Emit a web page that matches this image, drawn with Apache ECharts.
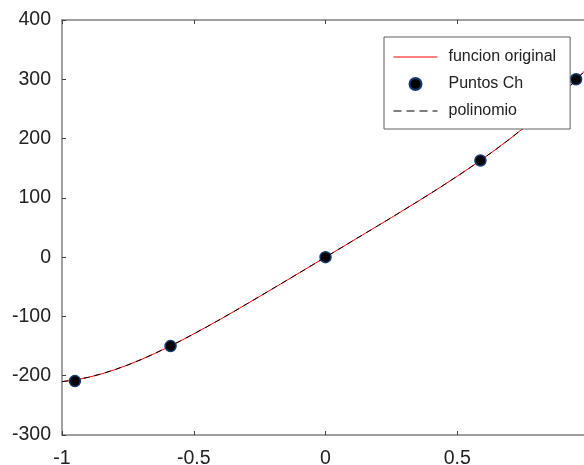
<!DOCTYPE html>
<html>
<head>
<meta charset="utf-8">
<script src="https://cdn.jsdelivr.net/npm/echarts@6/dist/echarts.min.js"></script>
<style>
html,body{margin:0;padding:0;background:#fff;}
#c{width:584px;height:465px;}
</style>
</head>
<body>
<div id="c"></div>
<script>
// x positions of the smooth curves
var curveX = [-1, -0.95, -0.9, -0.85, -0.8, -0.75, -0.7, -0.65, -0.6, -0.55, -0.5, -0.45, -0.4, -0.35, -0.3, -0.25, -0.2, -0.15, -0.1, -0.05, 0,
  0.05, 0.1, 0.15, 0.2, 0.25, 0.3, 0.35, 0.4, 0.45, 0.5, 0.55, 0.6, 0.65, 0.7, 0.75, 0.8, 0.85, 0.9, 0.95, 1];
// funcion original values
var originalY = [-210, -207, -202.7, -196.9, -189.9, -181.8, -172.8, -162.9, -152.3, -141.2, -129.5, -117.4, -105, -92.3, -79.3, -66.3, -53.1, -39.9, -26.6, -13.3, 0,
  13.3, 26.6, 40, 53.3, 66.7, 80.3, 93.9, 107.8, 122, 136.5, 151.4, 166.9, 182.9, 199.6, 217.2, 235.7, 255.3, 276.1, 298.3, 322];
// polinomio values
var polyY = [-210, -207, -202.7, -196.9, -189.9, -181.8, -172.8, -162.9, -152.3, -141.2, -129.5, -117.4, -105, -92.3, -79.3, -66.3, -53.1, -39.9, -26.6, -13.3, 0,
  13.3, 26.6, 40, 53.3, 66.7, 80.3, 93.9, 107.8, 122, 136.5, 151.4, 166.9, 182.9, 199.6, 217.2, 235.7, 255.3, 276.1, 298.3, 322];
// Puntos Ch (Chebyshev nodes)
var nodesX = [-0.951, -0.588, 0, 0.588, 0.951];
var nodesY = [-209, -150, 0, 163, 300];

var seriesNames = ['funcion original', 'Puntos Ch', 'polinomio'];

function pairs(xs, ys){ return xs.map(function(x,i){ return [x, ys[i]]; }); }

var axisGray = '#808080';
var labelColor = '#222222';
var font = 'Liberation Sans, Arial, Helvetica, sans-serif';

var chart = echarts.init(document.getElementById('c'), null, {renderer:'canvas'});
chart.setOption({
  backgroundColor: '#ffffff',
  animation: false,
  grid: { left: 62, top: 20, width: 527, height: 415, outerBoundsMode: 'none', containLabel: false },
  legend: {
    orient: 'vertical',
    left: 384, top: 37, z: 20,
    backgroundColor: '#ffffff',
    borderColor: '#606060', borderWidth: 1,
    padding: [11, 14, 9, 9],
    itemWidth: 44, itemHeight: 12, itemGap: 9,
    textStyle: { fontFamily: font, fontSize: 16, color: labelColor, lineHeight: 18, padding: [0,0,0,6] },
    data: [
      { name: seriesNames[0], itemStyle: { opacity: 0 }, lineStyle: { width: 1, color: '#ff0000' } },
      { name: seriesNames[1] },
      { name: seriesNames[2], itemStyle: { opacity: 0 }, lineStyle: { width: 1, color: '#000000', type: [8, 5] } }
    ]
  },
  xAxis: [{
    type: 'value', min: -1, max: 1, interval: 0.5, position: 'bottom',
    axisLine: { show: true, onZero: false, lineStyle: { color: axisGray, width: 1.5 } },
    axisTick: { show: true, inside: true, length: 4, lineStyle: { color: '#404040', width: 1 } },
    axisLabel: { margin: 14, fontFamily: font, fontSize: 19.5, color: labelColor },
    splitLine: { show: false }
  }, {
    type: 'value', min: -1, max: 1, interval: 0.5, position: 'top',
    axisLine: { show: true, onZero: false, lineStyle: { color: axisGray, width: 1.5 } },
    axisTick: { show: true, inside: true, length: 4, lineStyle: { color: '#404040', width: 1 } },
    axisLabel: { show: false },
    splitLine: { show: false }
  }],
  yAxis: {
    type: 'value', min: -300, max: 400, interval: 100,
    axisLine: { show: true, onZero: false, lineStyle: { color: axisGray, width: 1.5 } },
    axisTick: { show: true, inside: true, length: 4, lineStyle: { color: '#404040', width: 1 } },
    axisLabel: { margin: 11, fontFamily: font, fontSize: 19.5, color: labelColor },
    splitLine: { show: false }
  },
  series: [{
    name: seriesNames[0], type: 'line', data: pairs(curveX, originalY),
    symbol: 'none', smooth: false, z: 2,
    lineStyle: { color: '#ff0000', width: 1 }, itemStyle: { color: '#ff0000' }
  }, {
    name: seriesNames[1], type: 'scatter', data: pairs(nodesX, nodesY),
    symbol: 'circle', symbolSize: 11, z: 3,
    itemStyle: { color: '#000000', borderColor: '#123b73', borderWidth: 1.5, opacity: 1 }
  }, {
    name: seriesNames[2], type: 'line', data: pairs(curveX, polyY),
    symbol: 'none', smooth: false, z: 4,
    lineStyle: { color: '#000000', width: 1, type: [6, 5] }, itemStyle: { color: '#000000' }
  }]
});
</script>
</body>
</html>
